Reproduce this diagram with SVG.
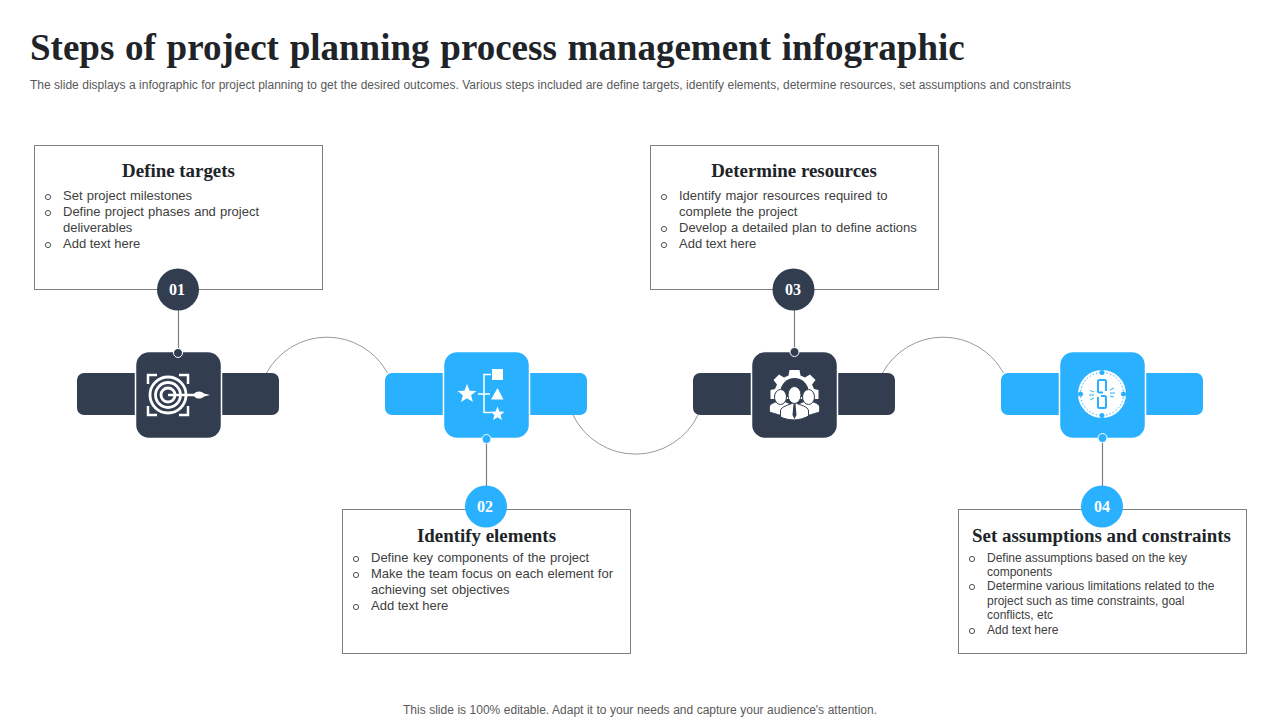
<svg xmlns="http://www.w3.org/2000/svg" width="1280" height="720" viewBox="0 0 1280 720">
<style>
text{font-family:"Liberation Sans",Arial,sans-serif;fill:#404040}
.title{font-family:"Liberation Serif","Times New Roman",serif;font-weight:700;font-size:37px;fill:#202428;word-spacing:1.500px}
.sub{font-size:12px;fill:#595959;word-spacing:.1px}
.foot{font-size:12px;fill:#595959;text-anchor:middle;word-spacing:.2px}
.h{font-family:"Liberation Serif","Times New Roman",serif;font-weight:700;font-size:18.900px;fill:#202428;text-anchor:middle}
.b{font-size:13px;fill:#404040;word-spacing:.6px}
.a{font-size:13px;fill:#404040}
.b2{font-size:12px;fill:#404040}
.bu{fill:none;stroke:#404040;stroke-width:.9}
.box{fill:#fff;stroke:#7f7f7f;stroke-width:1}
.lk{fill:none;stroke:#7f7f7f;stroke-width:1.2}
.arc{fill:none;stroke:#7f7f7f;stroke-width:.8}
.n{font-family:"Liberation Serif","Times New Roman",serif;font-weight:700;font-size:16px;fill:#fff;text-anchor:middle}
.dk{fill:#323e50}.bl{fill:#29b0ff}
.w{fill:#fff}.ws{fill:none;stroke:#fff}
</style>
<defs>
<g id="watch">
<rect x="0" y="21" width="70" height="42" rx="7"/>
<rect x="132" y="21" width="70" height="42" rx="7"/>
<rect x="58.500" y="-.5" width="86" height="87" rx="13.500" stroke="#fff" stroke-width="1.500"/>
</g>
<polygon id="star" points="0,-10 2.6,-3.3 9.5,-3.1 4.1,1.3 5.9,8.1 0,4.2 -5.9,8.1 -4.1,1.3 -9.5,-3.1 -2.6,-3.3"/>
</defs>
<text class="title" x="30" y="60">Steps of project planning process management infographic</text>
<text class="sub" x="30" y="89">The slide displays a infographic for project planning to get the desired outcomes. Various steps included are define targets, identify elements, determine resources, set assumptions and constraints</text>
<g id="connectors">
<path class="arc" d="M266.500 373A69 69 0 0 1 387.500 373"/>
<path class="arc" d="M573 415A69.500 69.500 0 0 0 698 415"/>
<path class="arc" d="M882.500 373A69 69 0 0 1 1003.500 373"/>
<path class="lk" d="M178.500 310V350M486.500 441V487M794.500 310V349M1102.500 441V487"/>
</g>
<g id="node-1">
<rect class="box" x="34.500" y="145.500" width="288" height="144"/>
<text class="h" x="178.500" y="177">Define targets</text>
<circle class="bu" cx="48" cy="197" r="2.600"/><text class="b" x="63" y="200">Set project milestones</text>
<circle class="bu" cx="48" cy="213" r="2.600"/><text class="b" x="63" y="216">Define project phases and project</text>
<text class="b" x="63" y="232">deliverables</text>
<circle class="bu" cx="48" cy="245" r="2.600"/><text class="a" x="63" y="248">Add text here</text>
<circle class="dk" cx="178" cy="289.500" r="21"/><text class="n" x="177" y="295">01</text>
<use href="#watch" x="77" y="352" class="dk"/>
<circle class="dk" cx="178" cy="353" r="4.500" stroke="#fff"/>
<g transform="translate(146,374)">
<path class="ws" stroke-width="2.500" d="M2 10V1H11M33 1H42V10M2 32V41H11M33 41H42V32"/>
<circle class="ws" stroke-width="2.800" cx="22" cy="21" r="18"/>
<circle class="ws" stroke-width="2.800" cx="22" cy="21" r="12.500"/>
<circle class="ws" stroke-width="2.800" cx="22" cy="21" r="7"/>
<path class="ws" stroke-width="2.500" d="M22 21H50"/>
<path class="w" d="M47 21C50 16.500 55 16.500 58 19.500L64 21L58 22.500C55 25.500 50 25.500 47 21Z"/>
</g>
</g>
<g id="node-2">
<rect class="box" x="342.500" y="509.500" width="288" height="144"/>
<text class="h" x="486.500" y="542">Identify elements</text>
<circle class="bu" cx="356" cy="559" r="2.600"/><text class="b" x="371" y="562" style="word-spacing:.7px">Define key components of the project</text>
<circle class="bu" cx="356" cy="575" r="2.600"/><text class="b" x="371" y="578" style="word-spacing:.4px">Make the team focus on each element for</text>
<text class="b" x="371" y="594">achieving set objectives</text>
<circle class="bu" cx="356" cy="607" r="2.600"/><text class="a" x="371" y="610">Add text here</text>
<circle class="bl" cx="486" cy="506.500" r="21"/><text class="n" x="485" y="512">02</text>
<use href="#watch" x="385" y="352" class="bl"/>
<circle class="bl" cx="486.500" cy="439" r="4.500" stroke="#fff"/>
<use href="#star" x="467" y="394" class="w"/>
<path class="ws" stroke-width="1.500" d="M491 374.500H484V412.500H491M478 394H490"/>
<rect class="w" x="492" y="369" width="11" height="11"/>
<polygon class="w" points="497.500,388 503.500,399.500 491,399.500"/>
<use href="#star" transform="translate(497.500 414) scale(.75)" class="w"/>
</g>
<g id="node-3">
<rect class="box" x="650.500" y="145.500" width="288" height="144"/>
<text class="h" x="794" y="177">Determine resources</text>
<circle class="bu" cx="664" cy="197" r="2.600"/><text class="b" x="679" y="200" style="word-spacing:1px">Identify major resources required to</text>
<text class="b" x="679" y="216">complete the project</text>
<circle class="bu" cx="664" cy="229" r="2.600"/><text class="b" x="679" y="232">Develop a detailed plan to define actions</text>
<circle class="bu" cx="664" cy="245" r="2.600"/><text class="a" x="679" y="248">Add text here</text>
<circle class="dk" cx="793.500" cy="289.500" r="21"/><text class="n" x="793" y="295">03</text>
<use href="#watch" x="693" y="352" class="dk"/>
<circle class="dk" cx="794.500" cy="352" r="4.500" stroke="#fff"/>
<g transform="translate(794.500,394)">
<path class="w" d="M-5 -24H5L6 -18.500L10.500 -16.500L15.500 -19.500L21 -14L17.500 -9.500L19.500 -5L24 -4V5H-24V-4L-19.500 -5L-17.500 -9.500L-21 -14L-15.500 -19.500L-10.500 -16.500L-6 -18.500Z"/>
<path class="dk" d="M-14 3V-2A14 14 0 0 1 14 -2V3Z"/>
<path class="w" stroke="#323e50" stroke-width=".8" d="M-25 18V13C-25 9 -17 8 -14 6H-13C-10 8 -3 9 -3 13V19L-15 21ZM25 18V13C25 9 17 8 14 6H13C10 8 3 9 3 13V19L15 21Z"/>
<ellipse class="w" cx="-14" cy="3" rx="6" ry="7.500" stroke="#323e50"/>
<ellipse class="w" cx="14" cy="3" rx="6" ry="7.500" stroke="#323e50"/>
<path class="w" stroke="#323e50" d="M-14 23V17C-14 12 -4 11 -2 9H2C4 11 14 12 14 17V22C5 27 -5 27 -14 23Z"/>
<ellipse class="w" cx="0" cy="1" rx="6.500" ry="8.500" stroke="#323e50"/>
<path class="dk" d="M-1 10H1L2 21L0 25L-2 21Z"/>
</g>
</g>
<g id="node-4">
<rect class="box" x="958.500" y="509.500" width="288" height="144"/>
<text class="h" x="1101.500" y="542">Set assumptions and constraints</text>
<circle class="bu" cx="972" cy="559" r="2.600"/><text class="b2" x="987" y="562">Define assumptions based on the key</text>
<text class="b2" x="987" y="576">components</text>
<circle class="bu" cx="972" cy="587" r="2.600"/><text class="b2" x="987" y="590">Determine various limitations related to the</text>
<text class="b2" x="987" y="605">project such as time constraints, goal</text>
<text class="b2" x="987" y="619">conflicts, etc</text>
<circle class="bu" cx="972" cy="631" r="2.600"/><text class="b2" x="987" y="634">Add text here</text>
<circle class="bl" cx="1102" cy="506.500" r="21"/><text class="n" x="1102" y="512">04</text>
<use href="#watch" x="1001" y="352" class="bl"/>
<circle class="bl" cx="1102.500" cy="438" r="4.500" stroke="#fff"/>
<circle class="w" cx="1102" cy="394" r="24"/>
<circle cx="1102" cy="394" r="21.500" fill="none" stroke="#29b0ff" stroke-width="1" stroke-dasharray="1.500 2"/>
<g fill="#29b0ff"><circle cx="1102" cy="372.500" r="2.500"/><circle cx="1102" cy="415.500" r="2.500"/><circle cx="1080.500" cy="394" r="2.500"/><circle cx="1123.500" cy="394" r="2.500"/></g>
<g fill="none" stroke="#29b0ff">
<path stroke-width="2" d="M1106 391V381.500Q1106 380 1104.500 380H1099.500Q1098 380 1098 381.500V391Q1098 392.500 1099.500 392.500H1103M1101 396H1104.500Q1106 396 1106 397.500V406.500Q1106 408 1104.500 408H1099.500Q1098 408 1098 406.500V397"/>
<path stroke-width="1" d="M1094 392L1090 390.500M1094 395H1089M1094 398L1090 400M1110 390L1114 388M1110 393H1115M1110 396L1114 397"/>
</g>
</g>
<text class="foot" x="640" y="714">This slide is 100% editable. Adapt it to your needs and capture your audience's attention.</text>
</svg>
